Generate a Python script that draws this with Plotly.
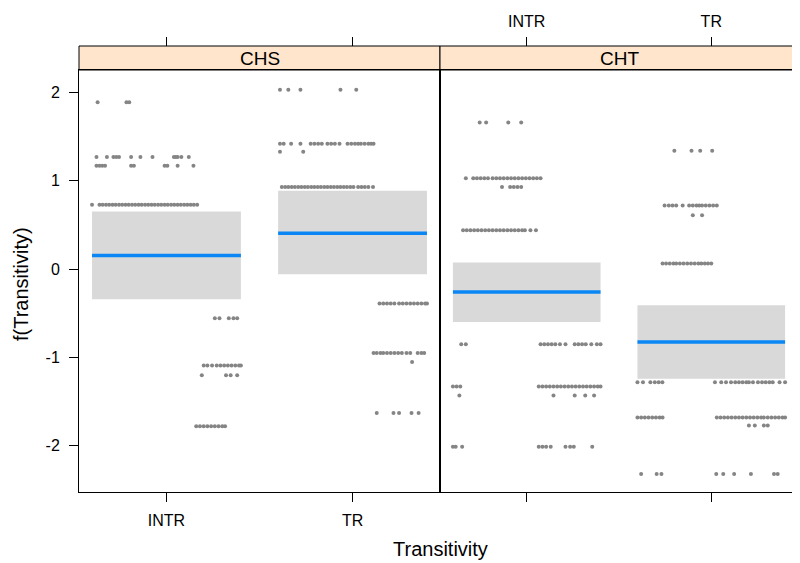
import plotly.graph_objects as go

# ---------------- data ----------------
panels = ["CHS", "CHT"]
categories = ["INTR", "TR"]
cat_pos = [1, 2]
y_ticks = [-2, -1, 0, 1, 2]

# effect estimates and confidence limits
chs_fit = [0.154, 0.407]
chs_lower = [-0.34, -0.057]
chs_upper = [0.652, 0.886]
cht_fit = [-0.26, -0.826]
cht_lower = [-0.60, -1.24]
cht_upper = [0.075, -0.41]

# partial residuals: value levels and the horizontal jitter of each point at that level
chs_intr_y = [1.89, 1.27, 1.17, 0.73, -0.557, -1.09, -1.20, -1.78]
chs_intr_dx = [
    [-0.37, -0.215, -0.20],
    [-0.376, -0.32, -0.285, -0.27, -0.255, -0.19, -0.14, -0.075, 0.04, 0.05, 0.06, 0.08, 0.12],
    [-0.376, -0.36, -0.345, -0.33, -0.19, -0.175, -0.01, 0.005, 0.06, 0.145],
    [-0.40, -0.36, -0.343, -0.325, -0.308, -0.29, -0.273, -0.255, -0.238, -0.22, -0.203, -0.185,
     -0.168, -0.15, -0.133, -0.115, -0.098, -0.08, -0.063, -0.045, -0.028, -0.01, 0.007, 0.025,
     0.042, 0.06, 0.077, 0.095, 0.112, 0.13, 0.147, 0.165],
    [0.26, 0.285, 0.335, 0.36, 0.38],
    [0.20, 0.22, 0.245, 0.27, 0.29, 0.31, 0.33, 0.35, 0.37, 0.39, 0.40],
    [0.19, 0.32, 0.345, 0.38],
    [0.16, 0.18, 0.20, 0.22, 0.24, 0.26, 0.28, 0.30, 0.315],
]
chs_tr_y = [2.03, 1.42, 1.33, 0.93, -0.39, -0.95, -1.05, -1.63]
chs_tr_dx = [
    [-0.39, -0.345, -0.28, -0.065, 0.02],
    [-0.39, -0.37, -0.33, -0.28, -0.225, -0.205, -0.185, -0.165, -0.135, -0.115, -0.095, -0.07,
     -0.027, -0.007, 0.013, 0.03, 0.045, 0.065, 0.085, 0.10, 0.113],
    [-0.39, -0.265],
    [-0.38, -0.362, -0.345, -0.327, -0.31, -0.292, -0.275, -0.257, -0.24, -0.222, -0.205, -0.187,
     -0.17, -0.152, -0.135, -0.117, -0.10, -0.082, -0.065, -0.047, -0.03, -0.012, 0.005,
     0.03, 0.048, 0.066, 0.085, 0.11],
    [0.145, 0.165, 0.185, 0.205, 0.225, 0.25, 0.27, 0.29, 0.31, 0.33, 0.35, 0.37, 0.39, 0.40],
    [0.113, 0.13, 0.15, 0.165, 0.185, 0.205, 0.225, 0.245, 0.265, 0.29, 0.31, 0.35, 0.37, 0.385],
    [0.32],
    [0.13, 0.22, 0.25, 0.317, 0.355],
]
cht_intr_y = [1.66, 1.03, 0.93, 0.44, -0.85, -1.33, -1.43, -2.01]
cht_intr_dx = [
    [-0.255, -0.22, -0.10, -0.03],
    [-0.33, -0.29, -0.27, -0.25, -0.23, -0.21, -0.185, -0.165, -0.145, -0.125, -0.105, -0.085,
     -0.065, -0.045, -0.025, -0.005, 0.015, 0.035, 0.055, 0.075],
    [-0.134, -0.09, -0.07, -0.05, -0.03],
    [-0.345, -0.325, -0.305, -0.285, -0.265, -0.245, -0.225, -0.205, -0.185, -0.165, -0.145,
     -0.125, -0.105, -0.085, -0.065, -0.045, -0.025, -0.01, 0.02, 0.05],
    [-0.355, -0.33, 0.075, 0.095, 0.115, 0.135, 0.155, 0.18, 0.21, 0.26, 0.28, 0.30, 0.32, 0.35,
     0.38, 0.40],
    [-0.40, -0.38, -0.36, 0.065, 0.085, 0.105, 0.125, 0.145, 0.165, 0.185, 0.205, 0.225, 0.245,
     0.265, 0.285, 0.305, 0.325, 0.345, 0.365, 0.385, 0.40],
    [-0.365, 0.145, 0.26, 0.317, 0.365],
    [-0.40, -0.385, -0.35, 0.065, 0.085, 0.105, 0.13, 0.21, 0.235, 0.255, 0.355],
]
cht_tr_y = [1.34, 0.72, 0.61, 0.064, -1.28, -1.68, -1.77, -2.32]
cht_tr_dx = [
    [-0.20, -0.107, -0.06, 0.005],
    [-0.253, -0.23, -0.21, -0.19, -0.155, -0.12, -0.10, -0.08, -0.065, -0.05, -0.03, -0.01,
     0.01, 0.03],
    [-0.10, -0.05],
    [-0.264, -0.245, -0.225, -0.205, -0.19, -0.17, -0.15, -0.13, -0.11, -0.09, -0.07, -0.054,
     -0.035, -0.018, 0.0],
    [-0.40, -0.37, -0.33, -0.306, -0.285, -0.265, 0.02, 0.054, 0.08, 0.107, 0.13, 0.15, 0.17,
     0.19, 0.204, 0.226, 0.253, 0.275, 0.295, 0.315, 0.333, 0.37, 0.40],
    [-0.40, -0.38, -0.36, -0.34, -0.32, -0.30, -0.28, -0.264, 0.03, 0.05, 0.07, 0.09, 0.11,
     0.13, 0.15, 0.17, 0.19, 0.21, 0.23, 0.25, 0.27, 0.285, 0.306, 0.326, 0.346, 0.366, 0.386,
     0.40],
    [0.204, 0.236, 0.285, 0.306],
    [-0.38, -0.296, -0.27, 0.027, 0.065, 0.124, 0.215, 0.34, 0.36],
]

# ---------------- style ----------------
FONT = "Liberation Sans, Arial, sans-serif"
BAND = "#D9D9D9"
LINE = "#0A86F5"
PT = "#858585"
STRIP = "#FFE5CC"
HALF = 0.4
XR = [0.53, 2.47]
YR = [-2.523, 2.254]
OFF = 8  # page offset of the figure (body margin)
W, H = 800 - OFF, 563 - OFF
ML, MR, MT = 79 - OFF, 2, 46 - OFF
MB = H - (492 - OFF)
plot_w = W - ML - MR
plot_h = H - MT - MB
split = (440 - 79) / plot_w
ytop = (492 - 70) / plot_h

panel_data = {
    "CHS": (chs_fit, chs_lower, chs_upper, [(chs_intr_y, chs_intr_dx), (chs_tr_y, chs_tr_dx)]),
    "CHT": (cht_fit, cht_lower, cht_upper, [(cht_intr_y, cht_intr_dx), (cht_tr_y, cht_tr_dx)]),
}

fig = go.Figure()
for pi, p in enumerate(panels):
    xa = "x" if pi == 0 else "x2"
    ya = "y" if pi == 0 else "y2"
    fit, lo, hi, resid = panel_data[p]
    for ci, c in enumerate(cat_pos):
        fig.add_trace(go.Scatter(
            x=[c - HALF, c + HALF, c + HALF, c - HALF, c - HALF],
            y=[lo[ci], lo[ci], hi[ci], hi[ci], lo[ci]],
            fill="toself", fillcolor=BAND, mode="lines", line=dict(width=0),
            xaxis=xa, yaxis=ya, hoverinfo="skip", showlegend=False))
    for ci, c in enumerate(cat_pos):
        ys, dxs = resid[ci]
        px, py = [], []
        for yv, row in zip(ys, dxs):
            for d in row:
                px.append(c + d)
                py.append(yv)
        fig.add_trace(go.Scatter(
            x=px, y=py, mode="markers",
            marker=dict(size=4, color=PT, line=dict(width=0)),
            xaxis=xa, yaxis=ya, showlegend=False))
    for ci, c in enumerate(cat_pos):
        fig.add_trace(go.Scatter(
            x=[c - HALF, c + HALF], y=[fit[ci], fit[ci]], mode="lines",
            line=dict(color=LINE, width=3.5),
            xaxis=xa, yaxis=ya, showlegend=False))

# empty traces so the top tick axes (above the strips) are created
fig.add_trace(go.Scatter(x=[], y=[], xaxis="x3", yaxis="y", showlegend=False))
fig.add_trace(go.Scatter(x=[], y=[], xaxis="x4", yaxis="y2", showlegend=False))

tickfont = dict(family=FONT, size=16, color="black")
common_x = dict(range=XR, tickvals=cat_pos, ticktext=categories, showgrid=False,
                zeroline=False, ticks="outside", ticklen=9, tickcolor="black",
                tickfont=tickfont, fixedrange=True, automargin=False)

fig.update_layout(
    width=W, height=H,
    margin=dict(l=ML, r=MR, t=MT, b=MB, autoexpand=False),
    paper_bgcolor="white", plot_bgcolor="white",
    font=dict(family=FONT, color="black"),
    xaxis=dict(domain=[0, split], anchor="y", showline=True, linecolor="black",
               mirror=True, showticklabels=True, ticklabelstandoff=5, **common_x),
    xaxis2=dict(domain=[split, 1], anchor="y2", showline=True, linecolor="black",
                mirror=True, showticklabels=False, **common_x),
    xaxis3=dict(overlaying="x", anchor="free", position=1, side="top", showline=False,
                showticklabels=False, **common_x),
    xaxis4=dict(overlaying="x2", anchor="free", position=1, side="top", showline=False,
                showticklabels=True, ticklabelstandoff=4, **common_x),
    yaxis=dict(domain=[0, ytop], anchor="x", range=YR, tickvals=y_ticks,
               ticktext=[str(v) for v in y_ticks], showgrid=False, zeroline=False,
               showline=True, linecolor="black", mirror=True, ticks="outside", ticklen=9,
               tickcolor="black", tickfont=dict(family=FONT, size=16, color="black"),
               ticklabelstandoff=6, fixedrange=True, automargin=False),
    yaxis2=dict(domain=[0, ytop], anchor="x2", range=YR, showgrid=False,
                zeroline=False, showline=True, linecolor="black", mirror=True,
                showticklabels=False, ticks="", fixedrange=True, automargin=False),
)

for pi, p in enumerate(panels):
    x0 = 0 if pi == 0 else split
    x1 = split if pi == 0 else 1
    fig.add_shape(type="rect", xref="paper", yref="paper", x0=x0, x1=x1, y0=ytop, y1=1,
                  fillcolor=STRIP, line=dict(color="black", width=1), layer="below")
    fig.add_annotation(text=p, xref="paper", yref="paper", x=(x0 + x1) / 2,
                       y=(ytop + 1) / 2, showarrow=False, xanchor="center", yanchor="middle",
                       font=dict(family=FONT, size=19, color="black"))

fig.add_annotation(text="Transitivity", xref="paper", yref="paper", x=(440 - 79) / plot_w,
                   y=-(549 - 492) / plot_h, showarrow=False, xanchor="center",
                   yanchor="middle", font=dict(family=FONT, size=20, color="black"))
fig.add_annotation(text="f(Transitivity)", xref="paper", yref="paper", x=(21 - 79) / plot_w,
                   y=(492 - 284) / plot_h, showarrow=False, textangle=-90, xanchor="center",
                   yanchor="middle", font=dict(family=FONT, size=20, color="black"))

fig.write_html("out.html")
